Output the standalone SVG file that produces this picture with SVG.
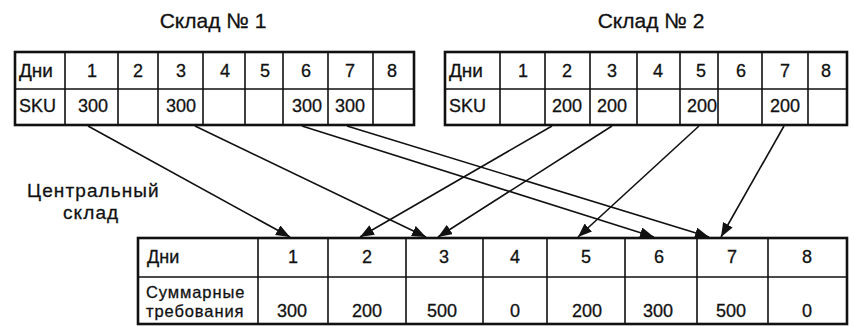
<svg xmlns="http://www.w3.org/2000/svg" width="854" height="326" viewBox="0 0 854 326">
<style>
  text { font-family: "Liberation Sans", Arial, sans-serif; fill: #111; stroke: #111; stroke-width: 0.3; }
  .t { font-size: 18px; }
  .c { text-anchor: middle; }
  .title { font-size: 21px; text-anchor: middle; }
  .lbl { font-size: 19px; letter-spacing: 1.1px; }
  .sm { font-size: 16.5px; letter-spacing: 0.9px; }
  .outer { fill: #fff; stroke: #111; stroke-width: 2.6; }
  .grid { stroke: #111; stroke-width: 1.6; fill: none; }
  .arr { stroke: #111; stroke-width: 1.6; fill: none; marker-end: url(#ah); }
</style>
<defs>
  <marker id="ah" markerWidth="15" markerHeight="11" refX="14" refY="5.5" orient="auto" markerUnits="userSpaceOnUse">
    <path d="M0,0 L14,5.5 L0,11 Z" fill="#111"/>
  </marker>
</defs>
<rect width="854" height="326" fill="#fff"/>

<g id="sklad1">
  <text class="title" x="213" y="28">Склад № 1</text>
  <rect class="outer" x="15" y="52" width="399" height="73"/>
  <path class="grid" d="M15,89H414 M65,52V125 M118,52V125 M158,52V125 M203,52V125 M245,52V125 M283,52V125 M328,52V125 M373,52V125"/>
  <g class="t">
    <text x="19" y="77" font-size="19">Дни</text>
    <text x="19" y="112">SKU</text>
    <text class="c" x="92" y="77">1</text>
    <text class="c" x="138" y="77">2</text>
    <text class="c" x="181" y="77">3</text>
    <text class="c" x="225" y="77">4</text>
    <text class="c" x="265" y="77">5</text>
    <text class="c" x="306" y="77">6</text>
    <text class="c" x="350" y="77">7</text>
    <text class="c" x="392" y="77">8</text>
    <text class="c" x="93" y="112">300</text>
    <text class="c" x="181" y="112">300</text>
    <text class="c" x="307" y="112">300</text>
    <text class="c" x="350" y="112">300</text>
  </g>
</g>

<g id="sklad2">
  <text class="title" x="651" y="28">Склад № 2</text>
  <rect class="outer" x="445" y="52" width="402" height="73"/>
  <path class="grid" d="M445,89H847 M500,52V125 M545,52V125 M590,52V125 M637,52V125 M680,52V125 M718,52V125 M762,52V125 M808,52V125"/>
  <g class="t">
    <text x="449" y="77" font-size="19">Дни</text>
    <text x="449" y="112">SKU</text>
    <text class="c" x="523" y="77">1</text>
    <text class="c" x="567" y="77">2</text>
    <text class="c" x="612" y="77">3</text>
    <text class="c" x="658" y="77">4</text>
    <text class="c" x="701" y="77">5</text>
    <text class="c" x="741" y="77">6</text>
    <text class="c" x="785" y="77">7</text>
    <text class="c" x="826" y="77">8</text>
    <text class="c" x="567" y="112">200</text>
    <text class="c" x="612" y="112">200</text>
    <text class="c" x="702" y="112">200</text>
    <text class="c" x="785" y="112">200</text>
  </g>
</g>

<g id="central">
  <text class="lbl" x="27" y="197">Центральный</text>
  <text class="lbl" x="63" y="219">склад</text>
  <rect class="outer" x="138" y="238" width="709" height="86"/>
  <path class="grid" d="M138,277H847 M258,238V324 M328,238V324 M406,238V324 M483,238V324 M547,238V324 M625,238V324 M697,238V324 M768,238V324"/>
  <g class="t">
    <text x="147" y="263">Дни</text>
    <text class="c" x="293" y="263">1</text>
    <text class="c" x="367" y="263">2</text>
    <text class="c" x="444" y="263">3</text>
    <text class="c" x="515" y="263">4</text>
    <text class="c" x="586" y="263">5</text>
    <text class="c" x="659" y="263">6</text>
    <text class="c" x="732" y="263">7</text>
    <text class="c" x="807" y="263">8</text>
    <text class="c" x="292" y="317">300</text>
    <text class="c" x="367" y="317">200</text>
    <text class="c" x="442" y="317">500</text>
    <text class="c" x="515" y="317">0</text>
    <text class="c" x="587" y="317">200</text>
    <text class="c" x="658" y="317">300</text>
    <text class="c" x="731" y="317">500</text>
    <text class="c" x="807" y="317">0</text>
  </g>
  <text class="sm" x="146" y="298">Суммарные</text>
  <text class="sm" x="146" y="317">требования</text>
</g>

<g id="connectors">
  <line class="arr" x1="88" y1="126" x2="290" y2="237"/>
  <line class="arr" x1="195" y1="126" x2="426" y2="237"/>
  <line class="arr" x1="302" y1="126" x2="654" y2="237"/>
  <line class="arr" x1="347" y1="126" x2="709" y2="237"/>
  <line class="arr" x1="552" y1="126" x2="360" y2="237"/>
  <line class="arr" x1="612" y1="126" x2="438" y2="237"/>
  <line class="arr" x1="699" y1="126" x2="578" y2="237"/>
  <line class="arr" x1="784" y1="126" x2="721" y2="237"/>
</g>
</svg>
